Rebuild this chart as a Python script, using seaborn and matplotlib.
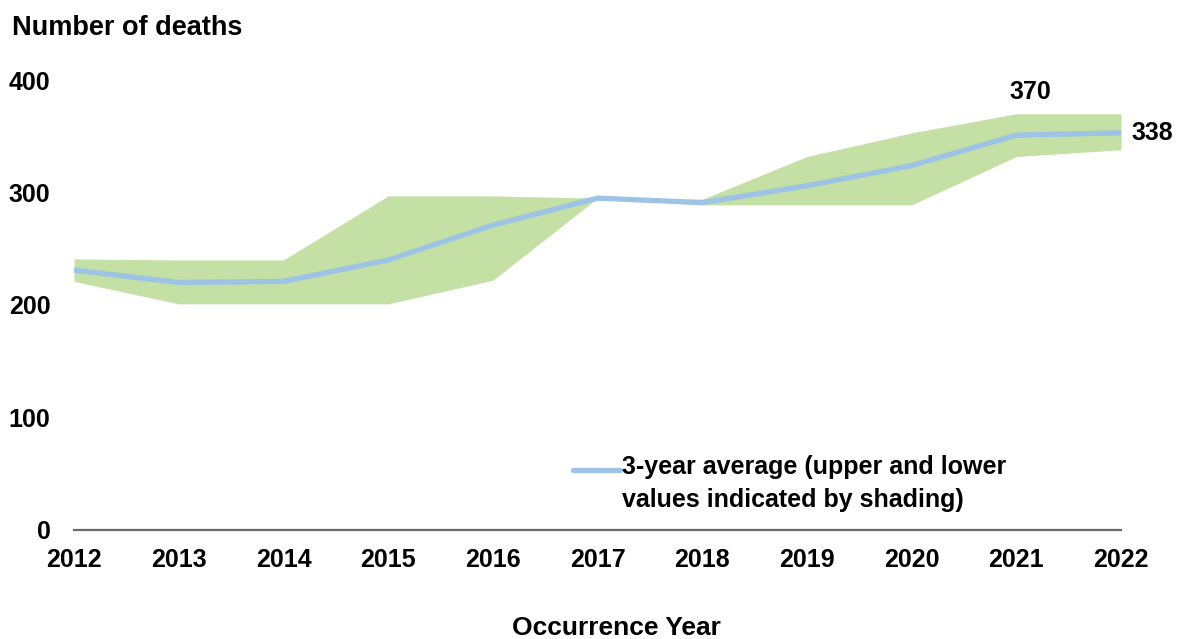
import pandas as pd
import matplotlib
matplotlib.use("Agg")
import matplotlib.pyplot as plt
from matplotlib.legend_handler import HandlerLine2D
import seaborn as sns

# =========================================
#  Data
# =========================================
years = [2012, 2013, 2014, 2015, 2016, 2017, 2018, 2019, 2020, 2021, 2022]
avg_3yr = [231, 220, 221, 240, 271, 295, 291, 306, 324, 351, 353]
upper = [241, 240, 240, 297, 297, 295, 294, 332, 353, 370, 370]
lower = [221, 201, 201, 201, 222, 295, 289, 289, 289, 332, 338]

df = pd.DataFrame({"year": years, "avg": avg_3yr, "upper": upper, "lower": lower})

LINE_COLOR = "#9DC3E6"
FILL_COLOR = "#C5E0A4"
TEXT_COLOR = "#000000"


class FirstLineHandler(HandlerLine2D):
    # put the legend line level with the first line of a two-line label
    def create_artists(self, legend, orig_handle, xdescent, ydescent, width, height,
                       fontsize, trans):
        return super().create_artists(legend, orig_handle, xdescent, ydescent, width,
                                      height + 20, fontsize, trans)


sns.set_style("white")
plt.rcParams["font.family"] = ["Liberation Sans", "DejaVu Sans"]
plt.rcParams["font.weight"] = "bold"
plt.rcParams["text.color"] = TEXT_COLOR
plt.rcParams["xtick.color"] = TEXT_COLOR
plt.rcParams["ytick.color"] = TEXT_COLOR

fig = plt.figure(figsize=(11.81, 6.39), dpi=100)
ax = fig.add_axes([0.0627, 0.1706, 0.8866, 0.7042])

# shaded range between the upper and lower values
ax.fill_between(df["year"], df["lower"], df["upper"], color=FILL_COLOR, linewidth=0, zorder=1)

# 3-year average
sns.lineplot(data=df, x="year", y="avg", ax=ax, color=LINE_COLOR, linewidth=3.8,
             label="3-year average (upper and lower\nvalues indicated by shading)", zorder=2)

ax.set_xlim(years[0], years[-1])
ax.set_ylim(0, 400)
ax.set_xticks(years)
ax.set_yticks([0, 100, 200, 300, 400])
ax.tick_params(axis="x", length=0, pad=13, labelsize=18, labelcolor=TEXT_COLOR)
ax.tick_params(axis="y", length=0, pad=17, labelsize=18, labelcolor=TEXT_COLOR)
for lbl in ax.get_xticklabels() + ax.get_yticklabels():
    lbl.set_fontweight("bold")

for side in ["top", "right", "left"]:
    ax.spines[side].set_visible(False)
ax.spines["bottom"].set_color("#6b6b6b")
ax.spines["bottom"].set_linewidth(1.6)
ax.spines["bottom"].set_zorder(3)

ax.set_xlabel("")
ax.set_ylabel("")

# value labels
ax.annotate(f"{upper[9]}", xy=(years[9], upper[9]), xytext=(14, 22), textcoords="offset pixels",
            ha="center", va="center", fontsize=18, fontweight="bold", color=TEXT_COLOR)
ax.annotate(f"{lower[10]}", xy=(years[10], avg_3yr[10]), xytext=(10, 0), textcoords="offset pixels",
            ha="left", va="center", fontsize=18, fontweight="bold", color=TEXT_COLOR,
            annotation_clip=False)

fig.text(0.010, 0.956, "Number of deaths", ha="left", va="center", fontsize=19.5,
         fontweight="bold", color=TEXT_COLOR)
fig.text(0.522, 0.017, "Occurrence Year", ha="center", va="center", fontsize=19,
         fontweight="bold", color=TEXT_COLOR)

handles, labels = ax.get_legend_handles_labels()
leg = ax.legend(handles, labels, loc="upper left", bbox_to_anchor=(0.455, 0.216),
                frameon=False, fontsize=18, handlelength=1.9, handletextpad=0.05,
                labelspacing=0.3, handler_map={handles[0]: FirstLineHandler()})
for t in leg.get_texts():
    t.set_fontweight("bold")
    t.set_color(TEXT_COLOR)
    t.set_linespacing(1.45)

fig.savefig("out.png", dpi=100)
